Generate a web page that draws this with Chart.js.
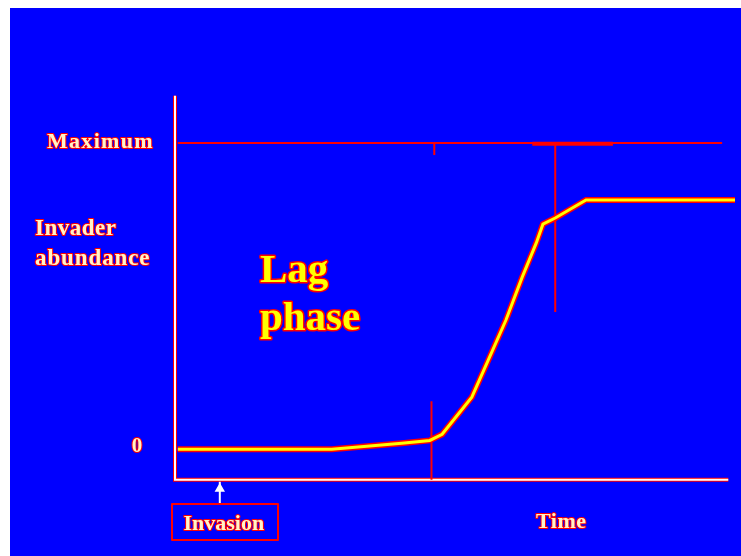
<!DOCTYPE html>
<html>
<head>
<meta charset="utf-8">
<script src="https://cdn.jsdelivr.net/npm/chart.js@4"></script>
<style>
  body { margin: 0; background: #fff; }
  canvas { display: block; }
</style>
</head>
<body>
<canvas id="lagChart" width="741" height="556"></canvas>
<script>
// invader abundance curve (time 0-100, abundance where Maximum = 100)
const timeValues = [0.5, 28, 40.5, 45.5, 47.7, 53, 55.7, 59.1, 62, 64.5, 65.7, 67.9, 73.4, 100];
const abundance = [0, 0, 2, 2.9, 4.9, 17, 28.1, 42.2, 56.2, 67.3, 73.5, 75.5, 81.4, 81.4];

const maxLevel = 100;
const axisLevel = -9.9;
const lagEnd = 45.8;       // end of lag phase marker
const saturation = 67.9;   // marker near the upper bend
const invasionTime = 8;

const pts = (xs, ys) => xs.map((x, i) => ({ x: x, y: ys[i] }));

const bgPlugin = {
  id: "bg",
  beforeDraw(chart) {
    const c = chart.ctx;
    c.save();
    c.fillStyle = "#fff";
    c.fillRect(0, 0, chart.width, chart.height);
    c.fillStyle = "#0000FF";
    c.fillRect(10, 8, chart.width - 10, chart.height - 8);
    c.restore();
  },
};

function label(c, text, x, y, size, fill, align, spacing) {
  c.font = "bold " + size + "px 'Liberation Serif', serif";
  c.letterSpacing = (spacing || 0) + "px";
  c.textAlign = align || "left";
  c.textBaseline = "alphabetic";
  c.lineJoin = "round";
  c.strokeStyle = "#FF0000";
  c.lineWidth = size > 30 ? 3 : 2;
  c.strokeText(text, x, y);
  c.fillStyle = fill;
  c.fillText(text, x, y);
}

const textPlugin = {
  id: "texts",
  afterDraw(chart) {
    const c = chart.ctx;
    const ys = chart.scales.y;
    const xs = chart.scales.x;
    c.save();
    label(c, "Maximum", 47, ys.getPixelForValue(maxLevel) + 5, 22, "#FFF4C8", "left", 1.3);
    label(c, "Invader", 35, 235, 23, "#FFF4C8", "left", 0.5);
    label(c, "abundance", 35, 265, 23, "#FFF4C8", "left", 0.9);
    label(c, "0", 137, ys.getPixelForValue(0) + 3, 21, "#FFF4C8", "center");
    label(c, "Lag", 260, 282, 41, "#FFFF00");
    label(c, "phase", 260, 330, 41, "#FFFF00");
    label(c, "Time", 536, 528, 22, "#FFF4C8", "left", 0.5);
    const ix = xs.getPixelForValue(invasionTime) + 4;
    label(c, "Invasion", ix, 530, 22, "#FFF4C8", "center");
    c.strokeStyle = "#FF0000";
    c.lineWidth = 2;
    c.strokeRect(172, 504, 106, 36);
    c.restore();
  },
};

const ctx = document.getElementById("lagChart").getContext("2d");
const lagChart = new Chart(ctx, {
  type: "line",
  data: {
    datasets: [
      {
        // yellow curve
        data: pts(timeValues, abundance),
        borderColor: "#FFFF00",
        borderWidth: 3,
        order: 1,
      },
      {
        // red outline of the curve
        data: pts(timeValues, abundance),
        borderColor: "#FF0000",
        borderWidth: 6,
        order: 2,
      },
      {
        // maximum line
        data: pts([0.5, 97.7], [maxLevel, maxLevel]),
        borderColor: "#FF0000",
        borderWidth: 2,
        order: 3,
      },
      {
        data: pts([63.8, 78.2], [maxLevel - 0.3, maxLevel - 0.3]),
        borderColor: "#FF0000",
        borderWidth: 4,
        order: 3,
      },
      {
        data: pts([46.3, 46.3], [maxLevel, 96.1]),
        borderColor: "#FF0000",
        borderWidth: 2,
        order: 3,
      },
      {
        data: pts([saturation, saturation], [maxLevel, 44.8]),
        borderColor: "#FF0000",
        borderWidth: 2,
        order: 3,
      },
      {
        data: pts([lagEnd, lagEnd], [15.7, axisLevel]),
        borderColor: "#FF0000",
        borderWidth: 2,
        order: 3,
      },
      {
        // axes, white core
        data: pts([0, 0, 98.8], [115.4, axisLevel, axisLevel]),
        borderColor: "#FFFFFF",
        borderWidth: 2,
        order: 4,
      },
      {
        // axes, red edge
        data: pts([0, 0, 98.8], [115.4, axisLevel, axisLevel]),
        borderColor: "#FF0000",
        borderWidth: 4,
        order: 5,
      },
      {
        // invasion arrow
        data: pts([invasionTime, invasionTime, invasionTime], [-17.6, -12.9, -10.6]),
        borderColor: "#FFFFFF",
        borderWidth: 2,
        pointRadius: [0, 4, 0],
        pointStyle: "triangle",
        pointBackgroundColor: "#FFFFFF",
        pointBorderColor: "#FFFFFF",
        order: 4,
      },
    ],
  },
  options: {
    responsive: false,
    animation: false,
    clip: false,
    layout: { padding: { left: 175, right: 6, top: 97, bottom: 73 } },
    elements: {
      point: { radius: 0 },
      line: { tension: 0, fill: false },
    },
    scales: {
      x: { type: "linear", min: 0, max: 100, display: false },
      y: { type: "linear", min: -11, max: 115, display: false },
    },
    plugins: {
      legend: { display: false },
      tooltip: { enabled: false },
    },
  },
  plugins: [bgPlugin, textPlugin],
});
</script>
</body>
</html>
